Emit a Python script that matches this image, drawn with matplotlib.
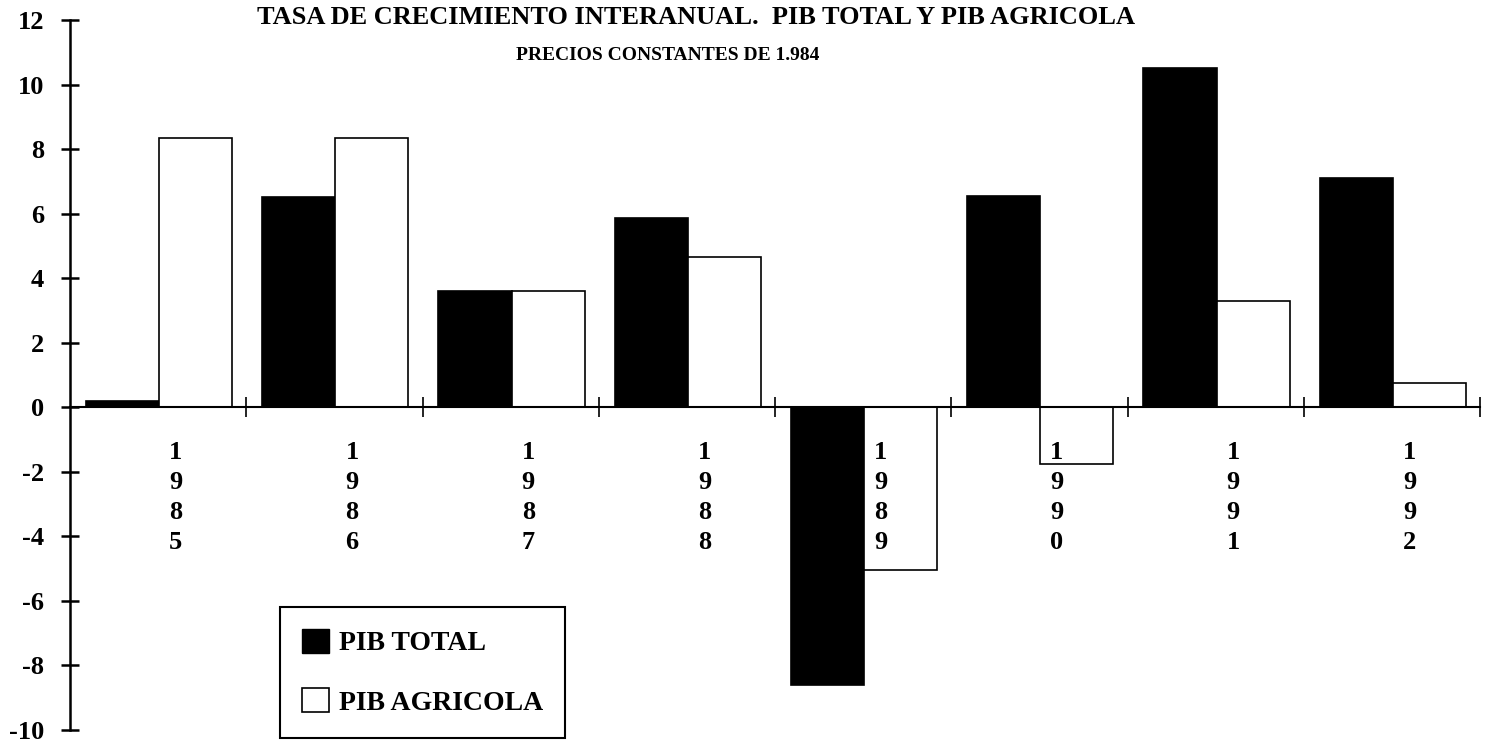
import numpy as np
import matplotlib
matplotlib.use("Agg")
import matplotlib.pyplot as plt
from matplotlib.patches import Patch

years = ["1985", "1986", "1987", "1988", "1989", "1990", "1991", "1992"]
pib_total = [0.2, 6.5, 3.6, 5.85, -8.6, 6.55, 10.5, 7.1]
pib_agricola = [8.35, 8.35, 3.6, 4.65, -5.05, -1.75, 3.3, 0.75]
y_ticks = [-10, -8, -6, -4, -2, 0, 2, 4, 6, 8, 10, 12]

plt.rcParams['font.family'] = ['Liberation Serif', 'DejaVu Serif']
plt.rcParams['font.weight'] = 'bold'

fig = plt.figure(figsize=(14.89, 7.46), dpi=100)
ax = fig.add_axes([70 / 1489, 16 / 746, 1410 / 1489, 710 / 746])

x = np.arange(len(years))
w = 0.415
ax.bar(x + 0.09, pib_total, width=w, align='edge', color='black',
       edgecolor='black', linewidth=1.2, label='PIB TOTAL')
ax.bar(x + 0.505, pib_agricola, width=w, align='edge', color='white',
       edgecolor='black', linewidth=1.2, label='PIB AGRICOLA')

ax.set_xlim(0, len(years))
ax.set_ylim(-10, 12)
ax.set_yticks(y_ticks)
ax.set_yticklabels([str(t) for t in y_ticks], fontsize=19, fontweight='bold')
ax.set_xticks(np.arange(1, len(years) + 1))
ax.set_xticklabels([])

for s in ['top', 'right']:
    ax.spines[s].set_visible(False)
ax.spines['bottom'].set_position(('data', 0))
ax.spines['left'].set_linewidth(1.8)
ax.spines['bottom'].set_linewidth(1.5)
ax.tick_params(axis='y', direction='inout', length=13, width=1.8, pad=12)
ax.tick_params(axis='x', direction='inout', length=14, width=1.2)

# year labels written vertically, one digit per line
for i, yr in enumerate(years):
    ax.text(i + 0.6, -1.05, "\n".join(yr), ha='center', va='top',
            fontsize=19, fontweight='bold', linespacing=1.38)

fig.text(696 / 1489, 1 - 18 / 746,
         "TASA DE CRECIMIENTO INTERANUAL.  PIB TOTAL Y PIB AGRICOLA",
         ha='center', va='center', fontsize=19, fontweight='bold')
fig.text(668 / 1489, 1 - 56 / 746, "PRECIOS CONSTANTES DE 1.984",
         ha='center', va='center', fontsize=14, fontweight='bold')

handles = [Patch(facecolor='black', edgecolor='black'),
           Patch(facecolor='white', edgecolor='black', linewidth=1.2)]
leg = fig.legend(handles, ['PIB TOTAL', 'PIB AGRICOLA'],
                 loc='lower left', bbox_to_anchor=(280 / 1489, 8 / 746),
                 prop={'family': 'Liberation Serif', 'weight': 'bold', 'size': 20},
                 fancybox=False, edgecolor='black', framealpha=1,
                 handlelength=0.95, handleheight=0.95, handletextpad=0.36,
                 labelspacing=1.15, borderpad=0.8, borderaxespad=0)
leg.get_frame().set_linewidth(1.5)

fig.savefig("out.png", dpi=100)
